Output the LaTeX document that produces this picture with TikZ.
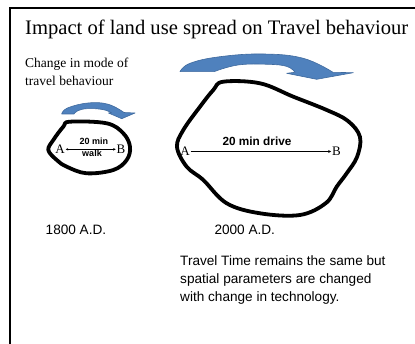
\documentclass[tikz,border=0pt]{standalone}
\usepackage{fontspec}
\setmainfont{Liberation Serif}
\setsansfont{Liberation Sans}
\usetikzlibrary{arrows.meta}
\definecolor{ppblue}{HTML}{4F81BD}
\definecolor{ppedge}{HTML}{3F6A9E}
\begin{document}
\begin{tikzpicture}[x=1pt,y=-1pt,
  blob/.style={line width=3.8pt, line join=round},
  bluearrow/.style={fill=ppblue, draw=ppedge, line width=0.6pt, line join=round},
  serifl/.style={font=\fontsize{13}{15}\selectfont, inner sep=0.8pt},
  lbl/.style={font=\sffamily\bfseries\fontsize{11.8}{13}\selectfont, inner sep=1pt},
  slbl/.style={font=\sffamily\bfseries\fontsize{9}{10}\selectfont, inner sep=0.5pt},
  plain/.style={font=\sffamily\fontsize{13.6}{15}\selectfont, inner sep=0pt, anchor=base west},
  conn/.style={line width=0.5pt}
]
\useasboundingbox (0,0) rectangle (415,344);
% frame
\draw[line width=2pt] (9.5,344) -- (9.5,8.5) -- (415,8.5);
% title
\node[anchor=base west, inner sep=0, font=\fontsize{20.6}{24}\selectfont] (title) at (25,35) {Impact of land use spread on Travel behaviour};
\node[anchor=base west, inner sep=0, font=\fontsize{13.5}{16}\selectfont] (cm1) at (25,68) {Change in mode of};
\node[anchor=base west, inner sep=0, font=\fontsize{13.5}{16}\selectfont] (cm2) at (25,86) {travel behaviour};

% small blue arrow
\path[bluearrow] (61.7,114) -- plot[smooth, tension=0.7] coordinates {(61.7,114) (67.5,108) (88,103) (108,104.2) (124,112.5)}
  -- (135,113) -- (121.7,118.7) -- (108.5,113) -- (111.5,112.8)
  -- plot[smooth, tension=0.7] coordinates {(111.5,112.8) (103,109.6) (88,108.6) (78,110.6) (74,114)} -- cycle;

% big blue arrow
\path[bluearrow] (180,71.7) -- plot[smooth, tension=0.7] coordinates {(180,71.7) (190,63.3) (220,56.7) (263.3,54) (303.3,58.3) (333,72.3)}
  -- (353.3,72.7) -- (316.7,79.3) -- (286.7,73.3) -- (295,72.3)
  -- plot[smooth, tension=0.7] coordinates {(295,72.3) (287,66.5) (268,64.3) (238,65) (214,71.7)} -- cycle;

% small blob
\draw[blob] plot[smooth cycle, tension=0.6] coordinates {(70,121.7) (106.7,123.3) (123.3,133.3) (130,146.7) (126.7,160) (113.3,170) (86.7,173.3) (66.7,166.7) (56.7,160) (48.3,150) (53.3,140) (63.3,126.7)};

% big blob
\draw[blob] plot[smooth cycle, tension=0.6] coordinates {(223.3,81.7) (260,83.3) (293.3,96.7) (326.7,110) (348,121) (360,137) (357,157) (346.7,173.3) (336.7,186.7) (326,203) (300,215) (260,213.3) (226.7,203.3) (203.3,180) (186.7,166.7) (177,147) (183.3,130) (200,106.7) (213.3,90)};

% small A-B
\node[serifl] (sa) at (60,149.3) {A};
\node[serifl] (sb) at (121,149.3) {B};
\draw[conn, {Stealth[length=2.5pt,width=2.5pt]}-{Stealth[length=2.5pt,width=2.5pt]}] (sa.east) -- (sb.west);
\node[slbl, anchor=base] (sw1) at (94,144.5) {20 min};
\node[slbl, anchor=base] (sw2) at (92,157) {walk};

% big A-B
\node[serifl] (ba) at (185,151.5) {A};
\node[serifl] (bb) at (336.5,151.5) {B};
\draw[conn, -{Stealth[length=3pt,width=3pt]}] (ba.east) -- (bb.west);
\node[lbl, anchor=base] (bd) at (257,146) {20 min drive};

% years
\node[plain] (y1) at (45.5,235) {1800 A.D.};
\node[plain] (y2) at (214.3,235) {2000 A.D.};

% note
\node[plain] (n1) at (180,266) {Travel Time remains the same but};
\node[plain] (n2) at (180,283.7) {spatial parameters are changed};
\node[plain] (n3) at (180,301.4) {with change in technology.};
\end{tikzpicture}
\end{document}
